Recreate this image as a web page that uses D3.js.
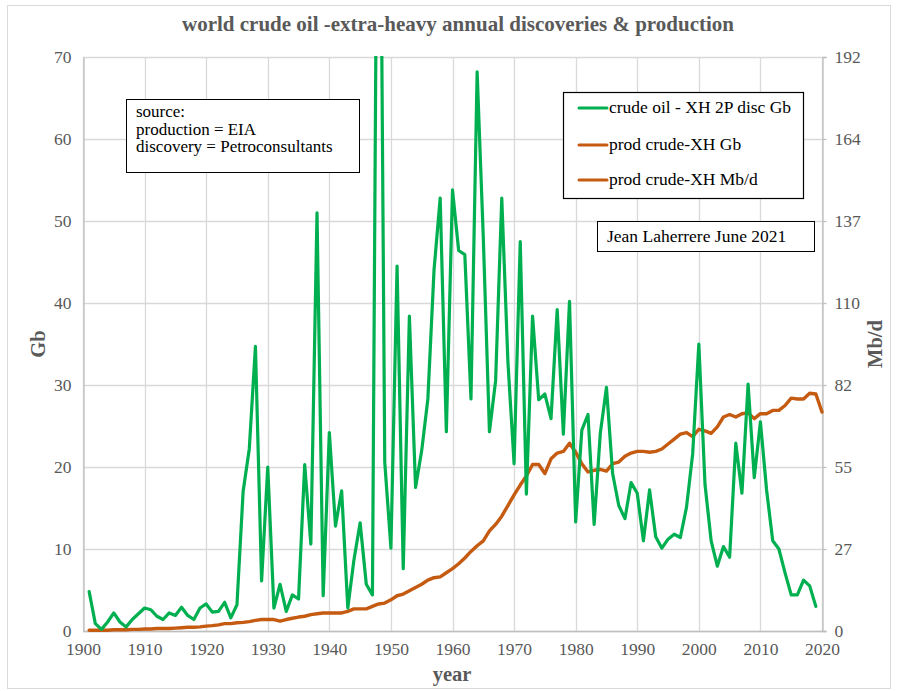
<!DOCTYPE html>
<html>
<head>
<meta charset="utf-8">
<script src="https://cdn.jsdelivr.net/npm/d3@7"></script>
<style>
  html, body { margin: 0; padding: 0; background: #ffffff; }
  svg { display: block; }
  svg text { font-family: "Liberation Serif", "Times New Roman", serif; }
</style>
</head>
<body>
<svg id="chart" width="897" height="691"></svg>
<script>
// Annual extra-heavy-excluded crude oil discoveries (2P, Gb) by year
const discYears = d3.range(1901, 2020);
const discGb = [
  4.8, 0.9, 0.2, 1.1, 2.2, 1.1, 0.5, 1.4, 2.1, 2.8,
  2.6, 1.8, 1.4, 2.2, 1.9, 2.9, 1.9, 1.4, 2.8, 3.3,
  2.3, 2.4, 3.5, 1.6, 3.2, 17.0, 22.2, 34.7, 6.1, 20.0,
  2.8, 5.7, 2.4, 4.4, 3.9, 20.3, 10.6, 51.0, 4.3, 24.2,
  12.8, 17.1, 2.8, 8.7, 13.2, 5.7, 4.4, 125.0, 20.6, 10.1,
  44.5, 7.6, 38.4, 17.5, 22.0, 28.3, 44.0, 52.8, 24.3, 53.8,
  46.4, 45.9, 28.3, 68.2, 48.0, 24.3, 30.5, 52.8, 32.8, 20.4,
  47.5, 16.7, 38.4, 28.2, 28.9, 25.9, 39.2, 24.0, 40.2, 13.3,
  24.5, 26.4, 13.0, 24.1, 29.7, 19.2, 15.3, 13.7, 18.1, 16.8,
  11.0, 17.2, 11.5, 10.1, 11.2, 11.8, 11.4, 15.1, 21.6, 35.0,
  17.9, 11.0, 7.9, 10.3, 9.0, 22.9, 16.8, 30.1, 18.7, 25.5,
  17.2, 11.0, 10.0, 7.1, 4.4, 4.4, 6.2, 5.5, 3.0
];

// Annual crude oil (ex extra-heavy) production, Gb per year
const prodYears = d3.range(1901, 2021);
const prodGb = [
  0.1, 0.1, 0.1, 0.1, 0.15, 0.15, 0.15, 0.2, 0.2, 0.25,
  0.25, 0.3, 0.3, 0.3, 0.35, 0.4, 0.45, 0.45, 0.5, 0.6,
  0.65, 0.75, 0.9, 0.9, 1.0, 1.05, 1.15, 1.3, 1.4, 1.4,
  1.4, 1.2, 1.4, 1.55, 1.7, 1.8, 2.0, 2.1, 2.2, 2.2,
  2.2, 2.2, 2.4, 2.7, 2.7, 2.7, 3.0, 3.3, 3.4, 3.8,
  4.3, 4.5, 4.9, 5.3, 5.7, 6.2, 6.5, 6.6, 7.1, 7.6,
  8.2, 8.9, 9.7, 10.4, 11.0, 12.2, 13.0, 14.0, 15.3, 16.6,
  17.8, 18.9, 20.3, 20.3, 19.2, 21.0, 21.7, 21.9, 22.9, 21.8,
  20.4, 19.4, 19.6, 19.7, 19.5, 20.4, 20.6, 21.3, 21.7, 21.9,
  21.9, 21.8, 21.9, 22.2, 22.8, 23.4, 24.0, 24.2, 23.7, 24.6,
  24.4, 24.1, 24.9, 26.1, 26.4, 26.1, 26.5, 26.6, 25.9, 26.5,
  26.5, 26.9, 26.9, 27.5, 28.4, 28.3, 28.3, 29.0, 28.9, 26.7
];

// Axis ticks and labels
const xTicks = d3.range(1900, 2021, 10);
const leftTicks = [0, 10, 20, 30, 40, 50, 60, 70];
const rightTickLabels = ["0", "27", "55", "82", "110", "137", "164", "192"];

const legendLabels = ["crude oil - XH 2P disc Gb", "prod crude-XH Gb", "prod crude-XH Mb/d"];
const sourceLines = ["source:", "production = EIA", "discovery = Petroconsultants"];
const creditText = "Jean Laherrere June 2021";
const titleText = "world crude oil -extra-heavy annual discoveries & production";

const GREEN = "#00B050";
const ORANGE = "#C55A11";
const GRID = "#d9d9d9";
const AXIS = "#bfbfbf";
const LABEL = "#595959";
const SERIF = '"Liberation Serif", "Times New Roman", serif';

const svg = d3.select("#chart");

// Outer chart frame
svg.append("rect")
  .attr("x", 7.5).attr("y", 5.5).attr("width", 883).attr("height", 683)
  .attr("fill", "#fff").attr("stroke", "#d9d9d9").attr("stroke-width", 1);

const plot = { left: 83, right: 822, top: 57, bottom: 631 };

const x = d3.scaleLinear().domain([1900, 2020]).range([plot.left, plot.right]);
const y = d3.scaleLinear().domain([0, 70]).range([plot.bottom, plot.top]);

// Grid
const grid = svg.append("g");
grid.selectAll("line.h").data(leftTicks).join("line")
  .attr("x1", plot.left).attr("x2", plot.right)
  .attr("y1", d => Math.round(y(d)) + 0.5).attr("y2", d => Math.round(y(d)) + 0.5)
  .attr("stroke", GRID).attr("stroke-width", 1.3);
grid.selectAll("line.v").data(xTicks).join("line")
  .attr("x1", d => Math.round(x(d)) + 0.5).attr("x2", d => Math.round(x(d)) + 0.5)
  .attr("y1", plot.top).attr("y2", plot.bottom)
  .attr("stroke", GRID).attr("stroke-width", 1.3);

// Axes
const axisLeft = d3.axisLeft(y).tickValues(leftTicks).tickSize(0).tickPadding(12);
const gl = svg.append("g").attr("transform", `translate(${plot.left + 0.5},0)`).call(axisLeft);

const axisRight = d3.axisRight(y).tickValues(leftTicks).tickSize(4)
  .tickFormat((d, i) => rightTickLabels[i]).tickPadding(8);
const gr = svg.append("g").attr("transform", `translate(${plot.right + 0.5},0)`).call(axisRight);

const axisBottom = d3.axisBottom(x).tickValues(xTicks).tickSize(0)
  .tickFormat(d3.format("d")).tickPadding(11);
const gb = svg.append("g").attr("transform", `translate(0,${plot.bottom + 0.5})`).call(axisBottom);

[gl, gr, gb].forEach(g => {
  g.attr("font-family", SERIF).attr("font-size", 17.5);
  g.select(".domain").attr("stroke", AXIS).attr("stroke-width", 1.3);
  g.selectAll(".tick line").attr("stroke", AXIS).attr("stroke-width", 1.3);
  g.selectAll(".tick text").attr("fill", LABEL);
});
gb.select(".domain").attr("d", `M${plot.left},0H${plot.right + 4}`);

// Axis titles
svg.append("text")
  .attr("transform", `translate(45,${(plot.top + plot.bottom) / 2}) rotate(-90)`)
  .attr("text-anchor", "middle").attr("fill", LABEL)
  .style("font-size", "20.5px").style("font-weight", "bold").text("Gb");
svg.append("text")
  .attr("transform", `translate(882,${(plot.top + plot.bottom) / 2}) rotate(-90)`)
  .attr("text-anchor", "middle").attr("fill", LABEL)
  .style("font-size", "20.5px").style("font-weight", "bold").text("Mb/d");
svg.append("text")
  .attr("x", 452).attr("y", 681)
  .attr("text-anchor", "middle").attr("fill", LABEL)
  .style("font-size", "20.5px").style("font-weight", "bold").text("year");

// Title
svg.append("text")
  .attr("x", 458).attr("y", 31)
  .attr("text-anchor", "middle").attr("fill", LABEL)
  .style("font-size", "21px").style("font-weight", "bold").text(titleText);

// Series, clipped to the plot area
svg.append("clipPath").attr("id", "plotClip")
  .append("rect")
  .attr("x", plot.left).attr("y", plot.top - 1)
  .attr("width", plot.right - plot.left + 2).attr("height", plot.bottom - plot.top + 4);

const series = svg.append("g").attr("clip-path", "url(#plotClip)");

const prodLine = d3.line().x((d, i) => x(prodYears[i])).y(d => y(d));
series.append("path")
  .attr("d", prodLine(prodGb))
  .attr("fill", "none").attr("stroke", ORANGE).attr("stroke-width", 3.4)
  .attr("stroke-linejoin", "round").attr("stroke-linecap", "round");

const discLine = d3.line().x((d, i) => x(discYears[i])).y(d => y(d));
series.append("path")
  .attr("d", discLine(discGb))
  .attr("fill", "none").attr("stroke", GREEN).attr("stroke-width", 3.2)
  .attr("stroke-linejoin", "round").attr("stroke-linecap", "round");

// Source note
const src = svg.append("g");
src.append("rect").attr("x", 126.5).attr("y", 99.5).attr("width", 233).attr("height", 73)
  .attr("fill", "#fff").attr("stroke", "#000").attr("stroke-width", 1);
src.selectAll("text").data(sourceLines).join("text")
  .attr("x", 136).attr("y", (d, i) => 117 + i * 17.5)
  .attr("fill", "#000").style("font-size", "17px").text(d => d);

// Legend
const leg = svg.append("g");
leg.append("rect").attr("x", 563.5).attr("y", 92.5).attr("width", 240).attr("height", 106)
  .attr("fill", "#fff").attr("stroke", "#000").attr("stroke-width", 1.2);
const legColors = [GREEN, ORANGE, ORANGE];
const legRowY = [108, 145, 180];
legendLabels.forEach((lab, i) => {
  leg.append("line")
    .attr("x1", 579).attr("x2", 607).attr("y1", legRowY[i]).attr("y2", legRowY[i])
    .attr("stroke", legColors[i]).attr("stroke-width", 3).attr("stroke-linecap", "round");
  leg.append("text")
    .attr("x", 609).attr("y", legRowY[i] + 5)
    .attr("fill", "#000").style("font-size", "17.5px").text(lab);
});

// Credit box
const cred = svg.append("g");
cred.append("rect").attr("x", 597.5).attr("y", 221.5).attr("width", 217).attr("height", 30)
  .attr("fill", "#fff").attr("stroke", "#000").attr("stroke-width", 1);
cred.append("text").attr("x", 607).attr("y", 242)
  .attr("fill", "#000").style("font-size", "17.5px").text(creditText);
</script>
</body>
</html>
